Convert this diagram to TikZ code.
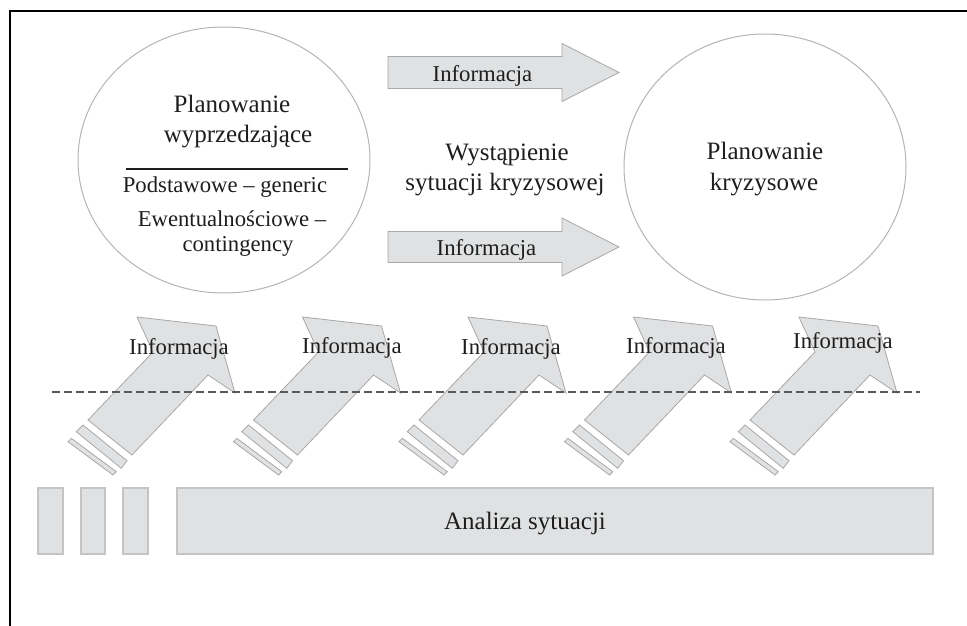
\documentclass[tikz,border=0pt]{standalone}
\usepackage{fontspec}
\setmainfont{Liberation Serif}
\usetikzlibrary{shapes.geometric}
\definecolor{txtc}{HTML}{1E1E1E}
\definecolor{boxfill}{HTML}{E0E1E2}
\definecolor{boxline}{HTML}{A8A8A8}
\definecolor{rectline}{HTML}{C4C4C4}
\definecolor{ellline}{HTML}{B4B4B4}
\definecolor{dashc}{HTML}{5A5A5A}
\begin{document}
\begin{tikzpicture}[x=1pt,y=-1pt,
  txt/.style={font=\fontsize{22.7}{26}\selectfont, text=txtc, inner sep=0pt, anchor=base},
  big/.style={font=\fontsize{25}{30}\selectfont, text=txtc, inner sep=0pt, anchor=base},
  blk/.style={fill=boxfill, draw=boxline, line width=0.8pt, line join=miter},
  rbox/.style={fill=boxfill, draw=rectline, line width=1.4pt},
  ell/.style={draw=ellline, line width=1pt, ellipse, inner sep=0pt},
  frame/.style={draw=black, line width=1.6pt},
  dline/.style={draw=dashc, line width=1.2pt, dash pattern=on 8pt off 4pt}]
\useasboundingbox (0,0) rectangle (967,626);
% frame
\draw[frame] (10,626) -- (10,11) -- (967,11);
% ellipses
\node[ell, minimum width=292, minimum height=266] (E1) at (224,160) {};
\node[ell, minimum width=282, minimum height=266] (E2) at (765,167) {};
% left ellipse texts
\node[big] (t1) at (232,113) {Planowanie};
\node[big] (t2) at (238,142.5) {wyprzedzające};
\coordinate (l1) at (126,169);
\coordinate (l2) at (348,169);
\draw[txtc, line width=1.2pt] (l1) -- (l2);
\node[txt] (t3) at (225,192) {Podstawowe – generic};
\node[txt] (t4) at (232,226) {Ewentualnościowe –};
\node[txt] (t5) at (238,251) {contingency};
% middle texts
\node[big] (m1) at (507,160) {Wystąpienie};
\node[big] (m2) at (505,190.5) {sytuacji kryzysowej};
% right ellipse texts
\node[big] (r1) at (765,159) {Planowanie};
\node[big] (r2) at (764,190) {kryzysowe};
% horizontal arrows
\draw[blk] (388,56.5) -- (562,56.5) -- (562,43.5) -- (619,72.5) -- (562,101.5) -- (562,88.5) -- (388,88.5) -- cycle;
\node[txt] (h1) at (482.5,81.5) {Informacja};
\draw[blk] (388,231.5) -- (562,231.5) -- (562,218) -- (619,247) -- (562,276) -- (562,262.5) -- (388,262.5) -- cycle;
\node[txt] (h2) at (486.5,255) {Informacja};
% diagonal arrows
\foreach \dx in {0,165.5,331,496.5,662} {
  \begin{scope}[shift={(\dx,0)}]
    \draw[blk] (88,420) -- (153,352) -- (137,317) -- (216,326) -- (235,393) -- (208,375) -- (132,455) -- cycle;
    \draw[blk] (83,425) -- (127,460.7) -- (121.3,468.3) -- (76.3,431.7) -- cycle;
    \draw[blk] (71.3,438.3) -- (116.3,471.7) -- (113,475) -- (68,441.7) -- cycle;
  \end{scope}
}
% dashed line
\coordinate (d1) at (52,392);
\coordinate (d2) at (920,392);
\draw[dline] (d1) -- (d2);
% diagonal arrow labels
\node[txt] (i1) at (179,354) {Informacja};
\node[txt] (i2) at (352,353) {Informacja};
\node[txt] (i3) at (511,354) {Informacja};
\node[txt] (i4) at (676,353) {Informacja};
\node[txt] (i5) at (843,348) {Informacja};
% bottom boxes
\node[rbox, minimum width=25, minimum height=66, inner sep=0pt] (b1) at (50.5,521) {};
\node[rbox, minimum width=24, minimum height=66, inner sep=0pt] (b2) at (93,521) {};
\node[rbox, minimum width=25, minimum height=66, inner sep=0pt] (b3) at (135.5,521) {};
\node[rbox, minimum width=756, minimum height=66, inner sep=0pt] (b4) at (555,521) {};
\node[big] (an) at (525,529) {Analiza sytuacji};
\end{tikzpicture}
\end{document}
